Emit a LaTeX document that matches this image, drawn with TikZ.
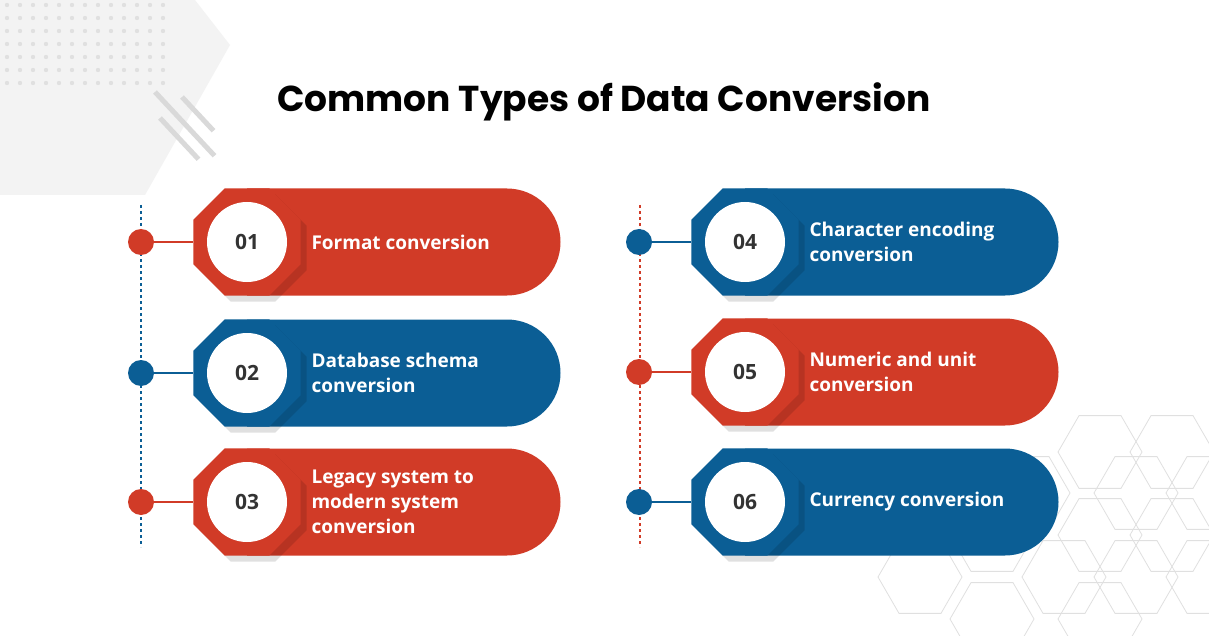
\documentclass[tikz,border=0pt]{standalone}
\usepackage{fontspec}
\setmainfont{Open Sans}
\newfontfamily\titlefont{Poppins}
\usetikzlibrary{shapes.geometric}
\definecolor{cardred}{HTML}{D13B27}
\definecolor{cardblue}{HTML}{0B5E95}
\definecolor{decogray}{HTML}{F3F3F3}
\tikzset{
  octa/.style={regular polygon,regular polygon sides=8,minimum size=116pt,inner sep=0pt},
  numdisc/.style={circle,fill=white,minimum size=80pt,inner sep=0pt,font=\bfseries\fontsize{21}{21}\selectfont,text=black!80},
  cardtext/.style={anchor=west,align=left,text=white,font=\bfseries\fontsize{19}{25}\selectfont},
  hexcell/.style={regular polygon,regular polygon sides=6,minimum size=84pt,inner sep=0pt,draw=black!12,line width=.8pt}
}
\begin{document}
\begin{tikzpicture}[x=1pt,y=-1pt]
\useasboundingbox (0,0) rectangle (1209,636);
\fill[white] (0,0) rectangle (1209,636);
% background decoration
\fill[decogray] (0,0) -- (195,0) -- (230,45) -- (145,195) -- (0,195) -- cycle;
\foreach \r in {0,...,6}
  \foreach \c in {0,...,12}
    \fill[black!12] (7+\c*13,5+\r*13) circle (2.2pt);
\foreach \a/\b/\len in {155/92/85,160/118/55,182/97/45}
  \draw[black!15,line width=5pt] (\a,\b) -- ++(\len*.7,\len*.75);
\foreach \hx/\hy in {1100/452,1172/452,1028/493,1136/493,1208/493,992/535,1100/535,1172/535,920/577,1064/577,1136/577,1208/577,992/619,1100/619}
  \node[hexcell] (hx) at (\hx,\hy) {};
% title
\node (title) at (604,102) {\titlefont\fontsize{36}{36}\selectfont\textbf{Common Types of Data Conversion}};
% timelines
\draw[cardblue,dashed,line width=1.3pt] (141,205) -- (141,547);
\draw[cardred,dashed,line width=1.3pt] (640,205) -- (640,547);
% cards
\foreach \n/\cx/\cy/\col/\txt in {
  01/247/242/cardred/{Format conversion},
  02/247/373/cardblue/{Database schema\\conversion},
  03/247/502/cardred/{Legacy system to\\modern system\\conversion},
  04/745/242/cardblue/{Character encoding\\conversion},
  05/745/372/cardred/{Numeric and unit\\conversion},
  06/745/502/cardblue/{Currency conversion}}{
  \fill[\col] (\cx,\cy-53.5) -- (\cx+260,\cy-53.5) arc (-90:90:53.5) -- (\cx,\cy+53.5) -- cycle;
  \node[octa,fill=black,opacity=.12] at (\cx+6,\cy+6) {};
  \node[octa,fill=\col] (oct\n) at (\cx,\cy) {};
  \node[numdisc] (num\n) at (\cx,\cy) {\n};
  \node[cardtext] (lbl\n) at (\cx+61,\cy) {\txt};
  \node[circle,fill=\col,minimum size=26pt,inner sep=0pt] (dot\n) at (\cx-106,\cy) {};
  \draw[\col,line width=1.5pt] (dot\n) -- (oct\n.west);
}
\end{tikzpicture}
\end{document}
